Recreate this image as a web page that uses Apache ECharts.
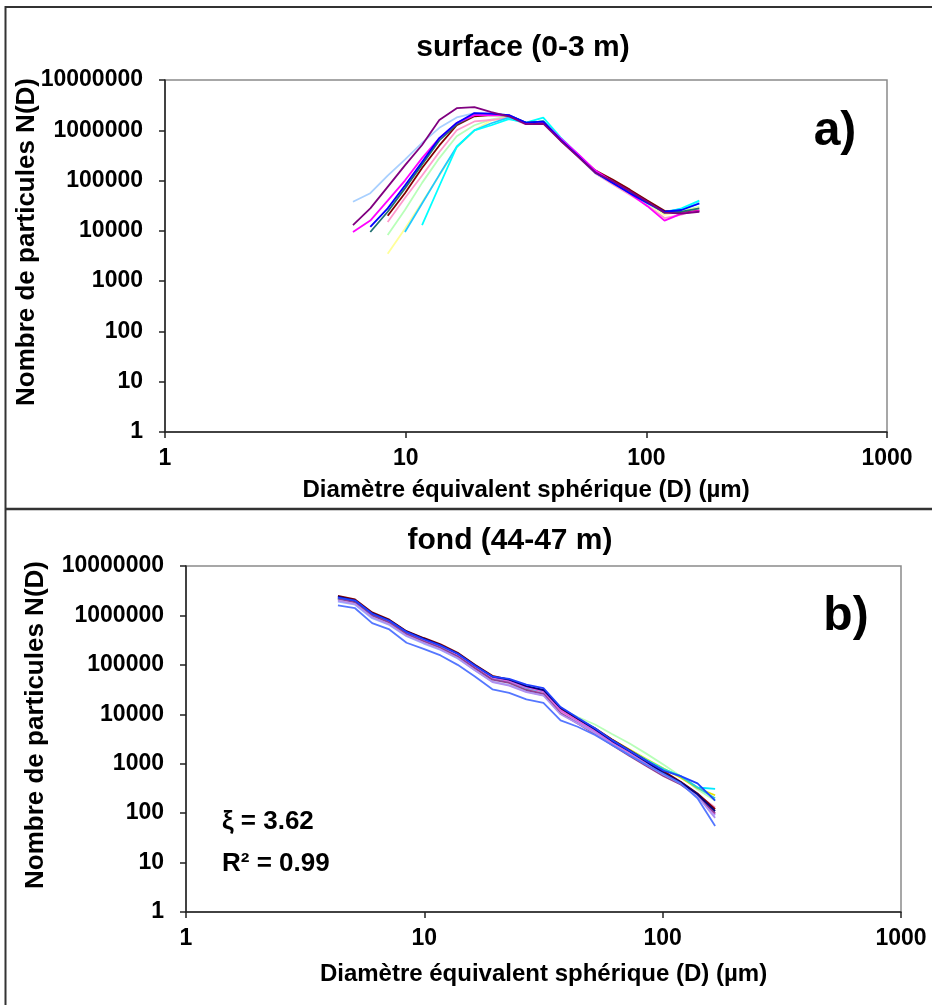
<!DOCTYPE html>
<html><head><meta charset="utf-8">
<script src="https://cdn.jsdelivr.net/npm/echarts@6/dist/echarts.min.js"></script>
<style>html,body{margin:0;padding:0;background:#fff}#c{width:932px;height:1005px}</style>
</head><body><div id="c"></div>
<script>
// Particle diameters (µm), log-spaced bins
const diameters = [4.34, 5.12, 6.04, 7.13, 8.42, 9.93, 11.7, 13.8, 16.3, 19.3, 22.7, 26.8, 31.6, 37.3, 44.0, 52.0, 61.3, 72.4, 85.4, 101, 119, 140, 166];
const xTickLabels = ['1', '10', '100', '1000'];
const yTickLabels = ['1', '10', '100', '1000', '10000', '100000', '1000000', '10000000'];
const titleTop = 'surface (0-3 m)';
const titleBottom = 'fond (44-47 m)';
const xName = 'Diamètre équivalent sphérique (D) (µm)';
const yName = 'Nombre de particules N(D)';

// surface (0-3 m)
const surfPurple = [null, null, 13000, 28000, 75000, 200000, 510000, 1600000, 2750000, 2900000, 2300000, 1900000, 1320000, 1350000, 620000, 300000, 145000, 98000, 62000, 38000, 23000, 22000, 24000];
const surfLightBlue = [null, null, 38000, 56000, 125000, 260000, 560000, 1120000, 1800000, 2200000, 2150000, 2000000, 1400000, 1500000, 650000, 300000, 140000, 88000, 55000, 35000, 24000, 26000, 38000];
const surfMagenta = [null, null, 9500, 16000, 40000, 100000, 280000, 700000, 1400000, 2000000, 2000000, 2000000, 1350000, 1450000, 700000, 340000, 160000, 95000, 55000, 31000, 16000, 22000, 25000];
const surfBlue = [null, null, null, 12000, 28000, 80000, 235000, 700000, 1400000, 2200000, 2150000, 2000000, 1420000, 1480000, 650000, 310000, 145000, 90000, 56000, 36000, 24000, 26000, 35000];
const surfTeal = [null, null, null, 9500, 24000, 70000, 210000, 630000, 1320000, 2000000, 2000000, 2000000, 1400000, 1500000, 640000, 310000, 145000, 95000, 60000, 37000, 23000, 24000, 28000];
const surfBrown = [null, null, null, null, 20000, 56000, 178000, 500000, 1260000, 1900000, 2000000, 1950000, 1400000, 1450000, 660000, 320000, 160000, 105000, 66000, 40000, 25000, 23000, 25000];
const surfPink = [null, null, null, null, 15000, 45000, 126000, 370000, 1000000, 1500000, 1600000, 1780000, 1320000, 1420000, 630000, 300000, 140000, 85000, 52000, 32000, 18000, 21000, 27000];
const surfLightGreen = [null, null, null, null, 8300, 26000, 90000, 280000, 760000, 1260000, 1650000, 1900000, 1400000, 1500000, 650000, 305000, 140000, 90000, 57000, 36000, 22000, 25000, 30000];
const surfYellow = [null, null, null, null, 3500, 11000, 37000, 126000, 450000, 1000000, 1580000, 1800000, 1380000, 1450000, 640000, 300000, 140000, 90000, 56000, 35000, 21000, 24000, 29000];
const surfSky = [null, null, null, null, null, 9500, 35000, 130000, 470000, 1000000, 1380000, 1780000, 1400000, 1500000, 660000, 310000, 145000, 92000, 58000, 37000, 24000, 27000, 35000];
const surfCyan = [null, null, null, null, null, null, 13000, 78000, 470000, 1000000, 1260000, 1660000, 1420000, 1780000, 720000, 330000, 150000, 95000, 58000, 36000, 23000, 28000, 40000];

// fond (44-47 m)
const fondNavy = [2400000, 2000000, 1100000, 800000, 470000, 340000, 250000, 170000, 98000, 58000, 50000, 37000, 31000, 13500, 8200, 5000, 2900, 1800, 1100, 650, 420, 240, 110];
const fondDarkRed = [2500000, 2100000, 1150000, 820000, 480000, 350000, 260000, 175000, 100000, 60000, 50000, 36000, 30000, 13000, 8000, 5200, 3100, 1900, 1150, 700, 430, 250, 120];
const fondMagenta = [2300000, 1950000, 1050000, 760000, 450000, 320000, 240000, 160000, 92000, 55000, 47000, 35000, 29000, 12000, 7400, 4600, 2700, 1650, 1000, 620, 400, 230, 95];
const fondCyan = [2200000, 1900000, 1000000, 740000, 440000, 315000, 235000, 160000, 92000, 55000, 47000, 34000, 29000, 12500, 8000, 5000, 3000, 1900, 1200, 780, 560, 330, 310];
const fondYellow = [2200000, 1850000, 1000000, 730000, 430000, 310000, 230000, 155000, 90000, 54000, 46000, 34000, 28000, 12000, 7800, 5000, 3100, 1950, 1250, 800, 520, 320, 230];
const fondLightGreen = [2100000, 1800000, 980000, 720000, 430000, 310000, 230000, 155000, 90000, 54000, 46000, 34000, 29000, 13000, 8800, 6200, 4000, 2600, 1600, 950, 560, 300, 180];
const fondTeal = [2300000, 1950000, 1050000, 760000, 445000, 320000, 235000, 160000, 92000, 55000, 47000, 35000, 30000, 12800, 8000, 5100, 3000, 1850, 1150, 760, 560, 330, 200];
const fondPurple = [2200000, 1850000, 1000000, 720000, 420000, 300000, 220000, 148000, 85000, 50000, 43000, 31000, 26000, 10500, 6500, 4000, 2400, 1450, 900, 560, 380, 220, 100];
const fondViolet = [2000000, 1700000, 920000, 660000, 390000, 280000, 205000, 138000, 78000, 45000, 38000, 28000, 24000, 10000, 6500, 4200, 2500, 1550, 950, 600, 400, 220, 80];
const fondRoyal = [1600000, 1400000, 700000, 520000, 280000, 210000, 155000, 100000, 58000, 32000, 27000, 20000, 17000, 7500, 5600, 3800, 2400, 1500, 950, 620, 400, 200, 55];
const fondBlue = [2300000, 2000000, 1080000, 780000, 460000, 330000, 245000, 168000, 96000, 58000, 52000, 40000, 34000, 14000, 8500, 5200, 3000, 1850, 1150, 720, 560, 400, 180];
const fondPink = [2100000, 1800000, 980000, 700000, 420000, 300000, 225000, 150000, 88000, 52000, 44000, 33000, 27000, 11500, 7200, 4500, 2700, 1650, 1000, 640, 420, 240, 130];
const fondLightBlue = [1900000, 1650000, 880000, 640000, 380000, 270000, 200000, 135000, 78000, 46000, 39000, 29000, 24000, 10500, 6800, 4400, 2700, 1700, 1050, 650, 420, 230, 90];

const slopeLabel = 'ξ = 3.62';
const r2Label = 'R² = 0.99';

const FONT = '"Liberation Sans", Arial, sans-serif';
function pairs(vals) {
  const out = [];
  vals.forEach((v, i) => { if (v != null) out.push([diameters[i], v]); });
  return out;
}
function line(name, vals, color, idx) {
  return {
    name, type: 'line', xAxisIndex: idx, yAxisIndex: idx, data: pairs(vals),
    showSymbol: false, symbol: 'none', lineStyle: { color, width: 1.8 }, itemStyle: { color },
    animation: false, z: 3
  };
}
function xAxis(idx, gap) {
  return {
    type: 'log', logBase: 10, min: 1, max: 1000, gridIndex: idx,
    name: xName, nameLocation: 'middle', nameGap: gap, nameMoveOverlap: false,
    nameTextStyle: { fontFamily: FONT, fontWeight: 'bold', fontSize: 24, color: '#000' },
    axisLine: { lineStyle: { color: '#222', width: 1.5 } },
    axisTick: { length: 6, lineStyle: { color: '#222', width: 1.5 } },
    minorTick: { show: false }, splitLine: { show: false },
    axisLabel: { fontFamily: FONT, fontWeight: 'bold', fontSize: 23, color: '#000', margin: 15,
      formatter: v => xTickLabels[Math.round(Math.log10(v))] }
  };
}
function yAxis(idx, gap) {
  return {
    type: 'log', logBase: 10, min: 1, max: 10000000, gridIndex: idx,
    name: yName, nameLocation: 'middle', nameGap: gap, nameRotate: 90, nameMoveOverlap: false,
    nameTextStyle: { fontFamily: FONT, fontWeight: 'bold', fontSize: 26, color: '#000', padding: [0, 0, 0, 28] },
    axisLine: { lineStyle: { color: '#222', width: 1.5 } },
    axisTick: { length: 6, lineStyle: { color: '#222', width: 1.5 } },
    minorTick: { show: false }, splitLine: { show: false },
    axisLabel: { fontFamily: FONT, fontWeight: 'bold', fontSize: 23, color: '#000', margin: 22,
      formatter: v => yTickLabels[Math.round(Math.log10(v))] }
  };
}
const chart = echarts.init(document.getElementById('c'), null, { renderer: 'canvas' });
const boldText = (text, x, y, size, align) => ({
  type: 'text', x, y, z: 10,
  style: { text, fontFamily: FONT, fontWeight: 'bold', fontSize: size, fill: '#000', align: align || 'center', verticalAlign: 'middle' }
});
chart.setOption({
  backgroundColor: '#fff',
  animation: false,
  grid: [
    { left: 165, top: 80, width: 722, height: 352, show: true, borderColor: '#8a8a8a', borderWidth: 1.5, backgroundColor: 'transparent', containLabel: false, outerBoundsMode: 'none' },
    { left: 186, top: 566, width: 715, height: 346, show: true, borderColor: '#8a8a8a', borderWidth: 1.5, backgroundColor: 'transparent', containLabel: false, outerBoundsMode: 'none' }
  ],
  xAxis: [xAxis(0, 46), xAxis(1, 50)],
  yAxis: [yAxis(0, 125), yAxis(1, 137)],
  series: [
    line('surf-lightgreen', surfLightGreen, '#B8FFB8', 0),
    line('surf-yellow', surfYellow, '#FFFF99', 0),
    line('surf-lightblue', surfLightBlue, '#A8D0FF', 0),
    line('surf-pink', surfPink, '#FF99CC', 0),
    line('surf-sky', surfSky, '#22C8FF', 0),
    line('surf-cyan', surfCyan, '#00FFFF', 0),
    line('surf-brown', surfBrown, '#800000', 0),
    line('surf-teal', surfTeal, '#207070', 0),
    line('surf-magenta', surfMagenta, '#FF00FF', 0),
    line('surf-blue', surfBlue, '#0000FF', 0),
    line('surf-purple', surfPurple, '#800080', 0),
    line('fond-lightgreen', fondLightGreen, '#B8FFB8', 1),
    line('fond-yellow', fondYellow, '#E8E000', 1),
    line('fond-pink', fondPink, '#FF99CC', 1),
    line('fond-lightblue', fondLightBlue, '#99B8FF', 1),
    line('fond-cyan', fondCyan, '#00E8FF', 1),
    line('fond-teal', fondTeal, '#33CCCC', 1),
    line('fond-darkred', fondDarkRed, '#800000', 1),
    line('fond-magenta', fondMagenta, '#E060E0', 1),
    line('fond-purple', fondPurple, '#904090', 1),
    line('fond-violet', fondViolet, '#B090F0', 1),
    line('fond-navy', fondNavy, '#000080', 1),
    line('fond-blue', fondBlue, '#2040FF', 1),
    line('fond-royal', fondRoyal, '#5577FF', 1)
  ],
  graphic: [
    { type: 'rect', shape: { x: 5.5, y: 7, width: 960, height: 1020 }, style: { fill: 'none', stroke: '#333', lineWidth: 2 }, z: 0 },
    { type: 'line', shape: { x1: 5, y1: 509, x2: 940, y2: 509 }, style: { stroke: '#333', lineWidth: 2.5 }, z: 0 },
    boldText(titleTop, 523, 48, 30),
    boldText(titleBottom, 510, 541, 30),
    boldText('a)', 835, 132, 48),
    boldText('b)', 846, 617, 48),
    boldText(slopeLabel, 222, 822, 26, 'left'),
    boldText(r2Label, 222, 864, 26, 'left')
  ]
});
</script>
</body></html>
